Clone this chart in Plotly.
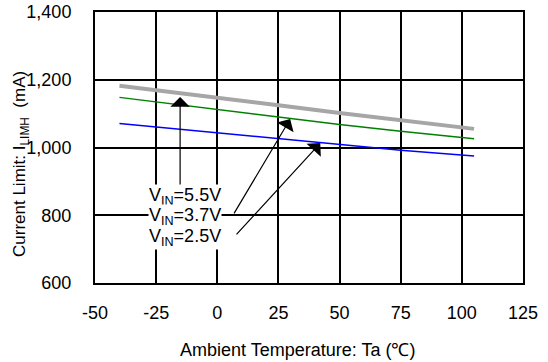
import plotly.graph_objects as go

# ==========================
# DATA
# ==========================

temps = [-40, 0, 25, 50, 75, 105]
i_55v = [1182, 1148, 1125, 1102, 1081, 1055]
i_37v = [1148, 1112, 1090, 1068, 1048, 1026]
i_25v = [1071, 1044, 1026, 1008, 992, 975]

x_ticks = [-50, -25, 0, 25, 50, 75, 100, 125]
x_labels = ["-50", "-25", "0", "25", "50", "75", "100", "125"]
y_ticks = [600, 800, 1000, 1200, 1400]
y_labels = ["600", "800", "1,000", "1,200", "1,400"]

labels = ["V<sub>IN</sub>=5.5V", "V<sub>IN</sub>=3.7V", "V<sub>IN</sub>=2.5V"]

FONT = "Liberation Sans, Arial, sans-serif"
PLOT_W = 428
PLOT_H = 271

fig = go.Figure()

fig.add_trace(go.Scatter(x=temps, y=i_55v, mode="lines",
                         line=dict(color="#a6a6a6", width=4)))
fig.add_trace(go.Scatter(x=temps, y=i_37v, mode="lines",
                         line=dict(color="#008000", width=1.5)))
fig.add_trace(go.Scatter(x=temps, y=i_25v, mode="lines",
                         line=dict(color="#0000ff", width=1.5)))

# ==========================
# ARROWS (tip -> tail in data coords)
# ==========================

arrows = [
    ((-15.2, 1149), (-15.2, 875)),
    ((29.8, 1084), (6.5, 801)),
    ((42.1, 1013), (7.3, 739)),
]

for (tx, ty), (sx, sy) in arrows:
    fig.add_annotation(
        x=tx, y=ty, ax=sx, ay=sy,
        xref="x", yref="y", axref="x", ayref="y",
        text="", showarrow=True,
        arrowhead=1, arrowsize=2.7, arrowwidth=1.2, arrowcolor="black"
    )

# ==========================
# LABELS
# ==========================

label_y = [854, 796, 733]
for txt, ly in zip(labels, label_y):
    fig.add_annotation(
        x=-13, y=ly, xref="x", yref="y",
        text=txt, showarrow=False,
        bgcolor="white", borderpad=0,
        font=dict(family=FONT, size=18, color="black")
    )

# y axis title
fig.add_annotation(
    x=(21 - 95) / PLOT_W, y=1 - 152 / PLOT_H, xref="paper", yref="paper",
    xanchor="center", yanchor="middle",
    text="Current Limit: I<sub>LIMH</sub>  (mA)",
    textangle=-90, showarrow=False,
    font=dict(family=FONT, size=17, color="black")
)

# x axis title
fig.add_annotation(
    x=0.5 - 12 / PLOT_W, y=-67 / PLOT_H, xref="paper", yref="paper",
    xanchor="center", yanchor="middle",
    text="Ambient Temperature: Ta (\u2103)",
    showarrow=False,
    font=dict(family=FONT, size=18, color="black")
)

fig.update_layout(
    width=548,
    height=362,
    margin=dict(l=95, r=25, t=12, b=79),
    paper_bgcolor="white",
    plot_bgcolor="white",
    showlegend=False,
    font=dict(family=FONT, size=18, color="black"),
    xaxis=dict(
        range=[-50, 125],
        tickvals=x_ticks,
        ticktext=x_labels,
        automargin=False,
        showgrid=True, gridcolor="black", gridwidth=1.5,
        showline=True, linecolor="black", linewidth=2, mirror=True,
        zeroline=False, ticks="", ticklen=0,
        ticklabelstandoff=12
    ),
    yaxis=dict(
        range=[600, 1400],
        tickvals=y_ticks,
        ticktext=y_labels,
        automargin=False,
        showgrid=True, gridcolor="black", gridwidth=1.5,
        showline=True, linecolor="black", linewidth=2, mirror=True,
        zeroline=False, ticks="", ticklen=0,
        ticklabelstandoff=18
    ),
)

# drop the default body margin so the figure sits at the window corner
fig.write_html(
    "out.html",
    config={"displayModeBar": False},
    post_script="document.body.style.margin = '0';"
)
